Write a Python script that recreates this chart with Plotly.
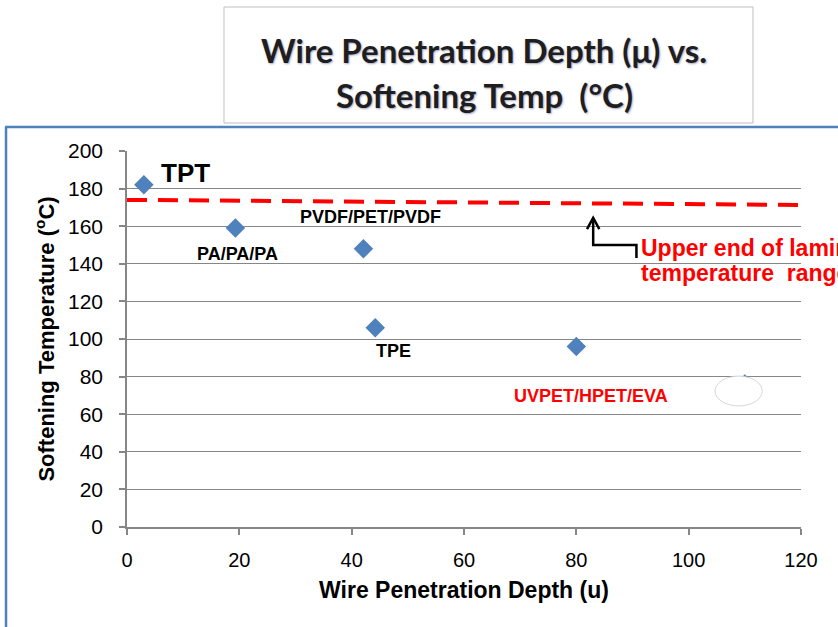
import plotly.graph_objects as go

# ---- data ----
materials = ["TPT", "PA/PA/PA", "PVDF/PET/PVDF", "TPE", "UVPET/HPET/EVA", ""]
depth = [3, 19.3, 42.1, 44.2, 80, 110]
soft_temp = [182, 159, 148, 106, 96, 76]
label_colors = ["black", "black", "black", "black", "#FF0000", "black"]
label_sizes = [26, 18, 18, 18, 18, 18]
label_dx = [42, 2, 7, 18, 15, 0]
label_dy = [12, -26, 32, -23, -49, 0]

ref_x = [0, 120]
ref_y = [174, 171.3]

x_ticks = [0, 20, 40, 60, 80, 100, 120]
y_ticks = [0, 20, 40, 60, 80, 100, 120, 140, 160, 180, 200]

FONT = "Liberation Sans, Arial, sans-serif"

fig = go.Figure()
fig.add_trace(go.Scatter(
    x=ref_x, y=ref_y, mode="lines",
    line=dict(color="#FF0000", width=4, dash="20px,11px"),
    hoverinfo="skip", showlegend=False, cliponaxis=False,
))
fig.add_trace(go.Scatter(
    x=depth, y=soft_temp, mode="markers",
    marker=dict(symbol="diamond", size=15, color="#4F81BD"),
    showlegend=False,
))

annotations = []
for m, x, y, c, s, dx, dy in zip(materials, depth, soft_temp, label_colors,
                                  label_sizes, label_dx, label_dy):
    if not m:
        continue
    annotations.append(dict(
        x=x, y=y, xref="x", yref="y", text=f"<b>{m}</b>", showarrow=False,
        xshift=dx, yshift=dy, yanchor="middle",
        font=dict(family=FONT, size=s, color=c),
    ))

# reference-line note (runs off the right edge, as in the original)
annotations += [
    dict(x=91.2, y=148.6, xref="x", yref="y", xanchor="left", yanchor="middle",
         text="<b>Upper end of lamination</b>", showarrow=False,
         font=dict(family=FONT, size=23, color="#FF0000")),
    dict(x=91.2, y=135.3, xref="x", yref="y", xanchor="left", yanchor="middle",
         text="<b>temperature  range</b>", showarrow=False,
         font=dict(family=FONT, size=23, color="#FF0000")),
]

# title
TFONT = "Lato, Open Sans, sans-serif"
annotations += [
    dict(x=0.5297, y=1.2686, xref="paper", yref="paper",
         xanchor="center", yanchor="middle",
         text="<b>Wire Penetration Depth (\u03bc) vs.</b>", showarrow=False,
         font=dict(family=TFONT, size=33, color="#1E1E1E",
                   shadow="1px 1px 2px rgba(60,60,120,0.45)")),
    dict(x=0.5297, y=1.149, xref="paper", yref="paper",
         xanchor="center", yanchor="middle",
         text="<b>Softening Temp  (\u00b0C)</b>", showarrow=False,
         font=dict(family=TFONT, size=33, color="#1E1E1E",
                   shadow="1px 1px 2px rgba(60,60,120,0.45)")),
]

shapes = [
    # title box
    dict(type="rect", xref="paper", yref="paper", x0=0.1439, x1=0.9288,
         y0=1.0745, y1=1.383, line=dict(color="#BFBFBF", width=1),
         fillcolor="white", layer="below"),
    # chart frame (blue)
    dict(type="line", xref="paper", yref="paper", x0=-0.181, x1=1.1,
         y0=1.0638, y1=1.0638, line=dict(color="#4F81BD", width=2.5)),
    dict(type="line", xref="paper", yref="paper", x0=-0.1795, x1=-0.1795,
         y0=1.0638, y1=-0.35, line=dict(color="#4F81BD", width=2.5)),
    # bracket arrow
    dict(type="path", xref="x", yref="y",
         path="M 83.0 164.4 L 83.0 150.0 L 90.7 150.0 L 90.7 143.1",
         line=dict(color="black", width=2.5)),
    dict(type="path", xref="x", yref="y",
         path="M 81.9 158.5 L 83.0 164.4 L 84.1 158.5",
         line=dict(color="black", width=2.5)),
    # white ellipse covering a point
    dict(type="circle", xref="x", yref="y", x0=104.7, x1=113.1,
         y0=64.4, y1=80.3, fillcolor="white",
         line=dict(color="#C8C8C8", width=0.75), layer="above"),
]

fig.update_layout(
    width=838, height=627,
    margin=dict(l=127, r=37, t=151, b=100),
    paper_bgcolor="white", plot_bgcolor="white",
    annotations=annotations, shapes=shapes,
    font=dict(family=FONT, color="black"),
)
fig.update_xaxes(
    range=[0, 120], tickvals=x_ticks, showgrid=False, zeroline=False,
    showline=True, linecolor="#868686", linewidth=1.5,
    ticks="outside", ticklen=6, tickcolor="#868686", tickwidth=1.5,
    ticklabelstandoff=8,
    tickfont=dict(family=FONT, size=20, color="black"),
    title=dict(text="<b>Wire Penetration Depth (u)</b>", standoff=12,
               font=dict(family=FONT, size=23, color="black")),
)
fig.update_yaxes(
    range=[0, 200], tickvals=y_ticks, showgrid=True, gridcolor="#868686",
    gridwidth=1.2, zeroline=False,
    showline=True, linecolor="#868686", linewidth=1.5,
    ticks="outside", ticklen=6, tickcolor="#868686", tickwidth=1.5,
    ticklabelstandoff=12,
    tickfont=dict(family=FONT, size=21, color="black"),
    title=dict(text="<b>Softening Temperature (<sup>o</sup>C)</b>", standoff=7,
               font=dict(family=FONT, size=22, color="black")),
)

fig.write_html("out.html")
